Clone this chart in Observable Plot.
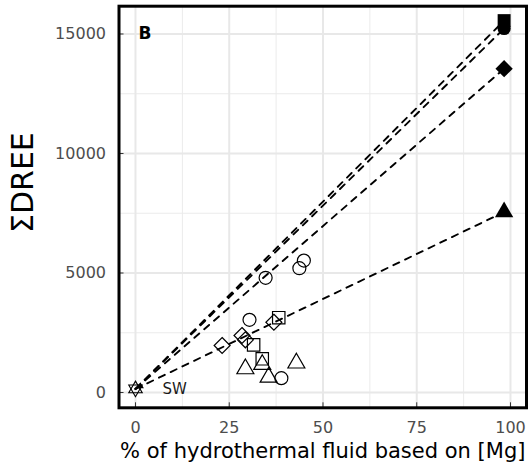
<!DOCTYPE html>
<html><head><meta charset="utf-8">
<script src="https://cdn.jsdelivr.net/npm/d3@7"></script>
<script src="https://cdn.jsdelivr.net/npm/@observablehq/plot@0.6"></script>
<style>body{margin:0;background:#fff} svg{display:block}</style>
</head><body><div id="chart"></div>
<script>
// Samples (open symbols)
const circleX = [34.7, 44.9, 43.7, 30.4, 38.9];
const circleY = [4800, 5520, 5200, 3040, 600];
const squareX = [38.2, 31.5, 33.8];
const squareY = [3130, 1995, 1410];
const diamondX = [23.1, 28.4, 29.3, 36.9];
const diamondY = [1967, 2385, 2205, 2940];
const triangleX = [29.3, 33.8, 35.5, 42.9];
const triangleY = [990, 1170, 640, 1230];
// Seawater end-member
const swX = 0;
const swY = 150;
const swMarkX = [1.3];
const swMarkY = [260];
// Hydrothermal end-members (filled)
const endX = 98.3;
const endGroups = ["triangle", "diamond", "circle", "square"];
const endY = [7550, 13550, 15230, 15560];
// ticks
const xTicks = [0, 25, 50, 75, 100];
const yTicks = [0, 5000, 10000, 15000];
const xMinor = [12.5, 37.5, 62.5, 87.5];
const yMinor = [2500, 7500, 12500];
const xTitle = "% of hydrothermal fluid based on [Mg]";
const yTitle = "ΣDREE";
const panelLabel = "B";
const swLabel = "SW";

const pts = (xs, ys) => xs.map((x, i) => ({x, y: ys[i]}));
const lineData = endGroups.flatMap((g, i) => [{g, x: swX, y: swY}, {g, x: endX, y: endY[i]}]);
const endData = endGroups.map((g, i) => ({g, x: endX, y: endY[i]}));
const endStyle = {triangle: ["triangle", 6.8], diamond: ["diamond2", 7.8], circle: ["circle", 6.6], square: ["square", 7.3]};

const font = "DejaVu Sans";
const plot = Plot.plot({
  width: 528, height: 467,
  marginLeft: 118.5, marginRight: 2, marginTop: 5.7, marginBottom: 59.7,
  style: {fontFamily: font, background: "#fff"},
  x: {domain: [-4.4, 104.27]},
  y: {domain: [-640, 16163]},
  marks: [
    Plot.gridX(xMinor, {stroke: "#ebebeb", strokeOpacity: 1, strokeWidth: 1}),
    Plot.gridY(yMinor, {stroke: "#ebebeb", strokeOpacity: 1, strokeWidth: 1}),
    Plot.gridX(xTicks, {stroke: "#e8e8e8", strokeOpacity: 1, strokeWidth: 2}),
    Plot.gridY(yTicks, {stroke: "#e8e8e8", strokeOpacity: 1, strokeWidth: 2}),
    Plot.line(lineData, {x: "x", y: "y", z: "g", stroke: "black", strokeWidth: 1.9, strokeDasharray: "6.5,6.5"}),
    Plot.dot(pts(circleX, circleY), {x: "x", y: "y", symbol: "circle", r: 6.5, stroke: "black", fill: "none", strokeWidth: 1.2}),
    Plot.dot(pts(squareX, squareY), {x: "x", y: "y", symbol: "square", r: 7, stroke: "black", fill: "none", strokeWidth: 1.2}),
    Plot.dot(pts(diamondX, diamondY), {x: "x", y: "y", symbol: "diamond2", r: 7.2, stroke: "black", fill: "none", strokeWidth: 1.2}),
    Plot.dot(pts(triangleX, triangleY), {x: "x", y: "y", symbol: "triangle", r: 6.3, stroke: "black", fill: "none", strokeWidth: 1.2}),
    Plot.dot([{x: swX, y: swY}], {x: "x", y: "y", symbol: "triangle", r: 5, stroke: "black", fill: "none", strokeWidth: 1.1}),
    Plot.dot([{x: swX, y: swY}], {x: "x", y: "y", symbol: "triangle", r: 5, stroke: "black", fill: "none", strokeWidth: 1.1, rotate: 180}),
    Plot.dot(pts(swMarkX, swMarkY), {x: "x", y: "y", symbol: "triangle", r: 2.6, fill: "black"}),
    ...endData.map(d => Plot.dot([d], {x: "x", y: "y", symbol: endStyle[d.g][0], r: endStyle[d.g][1], fill: "black", stroke: "none"})),
    Plot.text([panelLabel], {x: 0.8, y: 15000, text: d => d, textAnchor: "start", fontWeight: "bold", fontSize: 17, fill: "black"}),
    Plot.text([swLabel], {x: 7.2, y: 150, text: d => d, textAnchor: "start", fontSize: 15, fill: "#1a1a1a"}),
    Plot.axisX(xTicks, {tickSize: -5, tickPadding: 19, fontSize: 16, color: "#4d4d4d", stroke: "#333", label: null, tickFormat: d3.format("d")}),
    Plot.axisY(yTicks, {tickSize: -5, tickPadding: 18, fontSize: 16, color: "#4d4d4d", stroke: "#333", label: null, tickFormat: d3.format("d")}),
    Plot.text([xTitle], {frameAnchor: "bottom", dy: 43, text: d => d, fontSize: 21, fill: "black", lineAnchor: "middle"}),
    Plot.text([yTitle], {frameAnchor: "left", dx: -96, dy: 26, rotate: -90, text: d => d, fontSize: 30, fill: "black", lineAnchor: "middle"}),
    Plot.frame({stroke: "black", strokeWidth: 3})
  ]
});
document.getElementById("chart").append(plot);
</script>
</body></html>
